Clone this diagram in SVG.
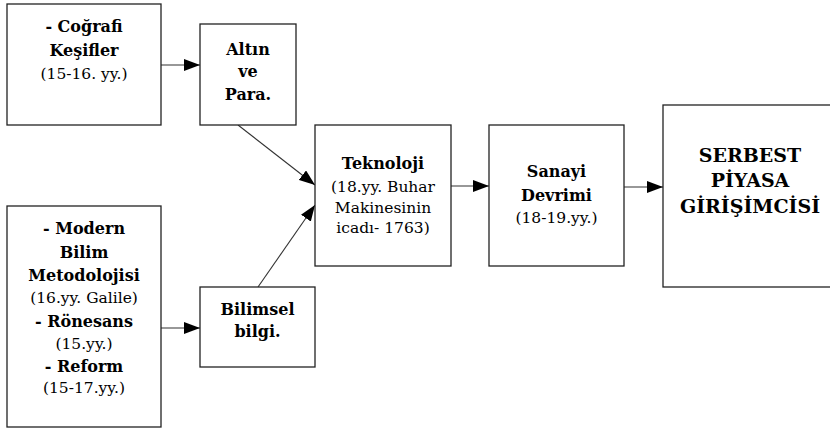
<svg xmlns="http://www.w3.org/2000/svg" width="830" height="429" viewBox="0 0 830 429">
<style>
.box{fill:#fff;stroke:#222;stroke-width:1.3}
text{font-family:"DejaVu Serif","Liberation Serif",serif;text-anchor:middle;fill:#000}
.b{font-weight:bold;font-size:16px}
.r{font-size:15.5px}
.big{font-weight:bold;font-size:19px}
.con{stroke:#333;stroke-width:1.1;fill:none;marker-end:url(#ah)}
</style>
<defs>
<marker id="ah" markerUnits="userSpaceOnUse" markerWidth="16" markerHeight="12" refX="16" refY="6" orient="auto">
<path d="M0,0 L16,6 L0,12 z" fill="#000"/>
</marker>
</defs>
<rect width="830" height="429" fill="#fff"/>
<g id="connectors">
<line class="con" x1="161" y1="65" x2="200" y2="65"/>
<line class="con" x1="161" y1="328" x2="200" y2="328"/>
<line class="con" x1="238" y1="125" x2="315" y2="185"/>
<line class="con" x1="258" y1="287" x2="315" y2="205"/>
<line class="con" x1="451" y1="186" x2="489" y2="186"/>
<line class="con" x1="624" y1="187" x2="663" y2="187"/>
</g>
<g id="cografi">
<rect class="box" x="7" y="4" width="154" height="121"/>
<text class="b" x="84" y="32">- Coğrafi</text>
<text class="b" x="84" y="56">Keşifler</text>
<text class="r" x="84" y="79">(15-16. yy.)</text>
</g>
<g id="altin">
<rect class="box" x="200" y="24" width="96" height="101"/>
<text class="b" x="248" y="55">Altın</text>
<text class="b" x="248" y="77">ve</text>
<text class="b" x="248" y="100">Para.</text>
</g>
<g id="modern">
<rect class="box" x="7" y="206" width="154" height="221"/>
<text class="b" x="84" y="234">- Modern</text>
<text class="b" x="84" y="258">Bilim</text>
<text class="b" x="84" y="281">Metodolojisi</text>
<text class="r" x="84" y="303">(16.yy. Galile)</text>
<text class="b" x="84" y="327">- Rönesans</text>
<text class="r" x="84" y="349">(15.yy.)</text>
<text class="b" x="84" y="372">- Reform</text>
<text class="r" x="84" y="393">(15-17.yy.)</text>
</g>
<g id="bilimsel">
<rect class="box" x="200" y="287" width="115" height="80"/>
<text class="b" x="257.5" y="315">Bilimsel</text>
<text class="b" x="257.5" y="337">bilgi.</text>
</g>
<g id="teknoloji">
<rect class="box" x="315" y="125" width="136" height="141"/>
<text class="b" x="383" y="169">Teknoloji</text>
<text class="r" x="383" y="192">(18.yy. Buhar</text>
<text class="r" x="383" y="213">Makinesinin</text>
<text class="r" x="383" y="233">icadı- 1763)</text>
</g>
<g id="sanayi">
<rect class="box" x="489" y="125" width="135" height="141"/>
<text class="b" x="556.5" y="177">Sanayi</text>
<text class="b" x="556.5" y="201">Devrimi</text>
<text class="r" x="556.5" y="223">(18-19.yy.)</text>
</g>
<g id="serbest">
<rect class="box" x="663" y="105" width="180" height="182"/>
<text class="big" x="750" y="162">SERBEST</text>
<text class="big" x="750" y="187">PİYASA</text>
<text class="big" x="750" y="213">GİRİŞİMCİSİ</text>
</g>
</svg>
